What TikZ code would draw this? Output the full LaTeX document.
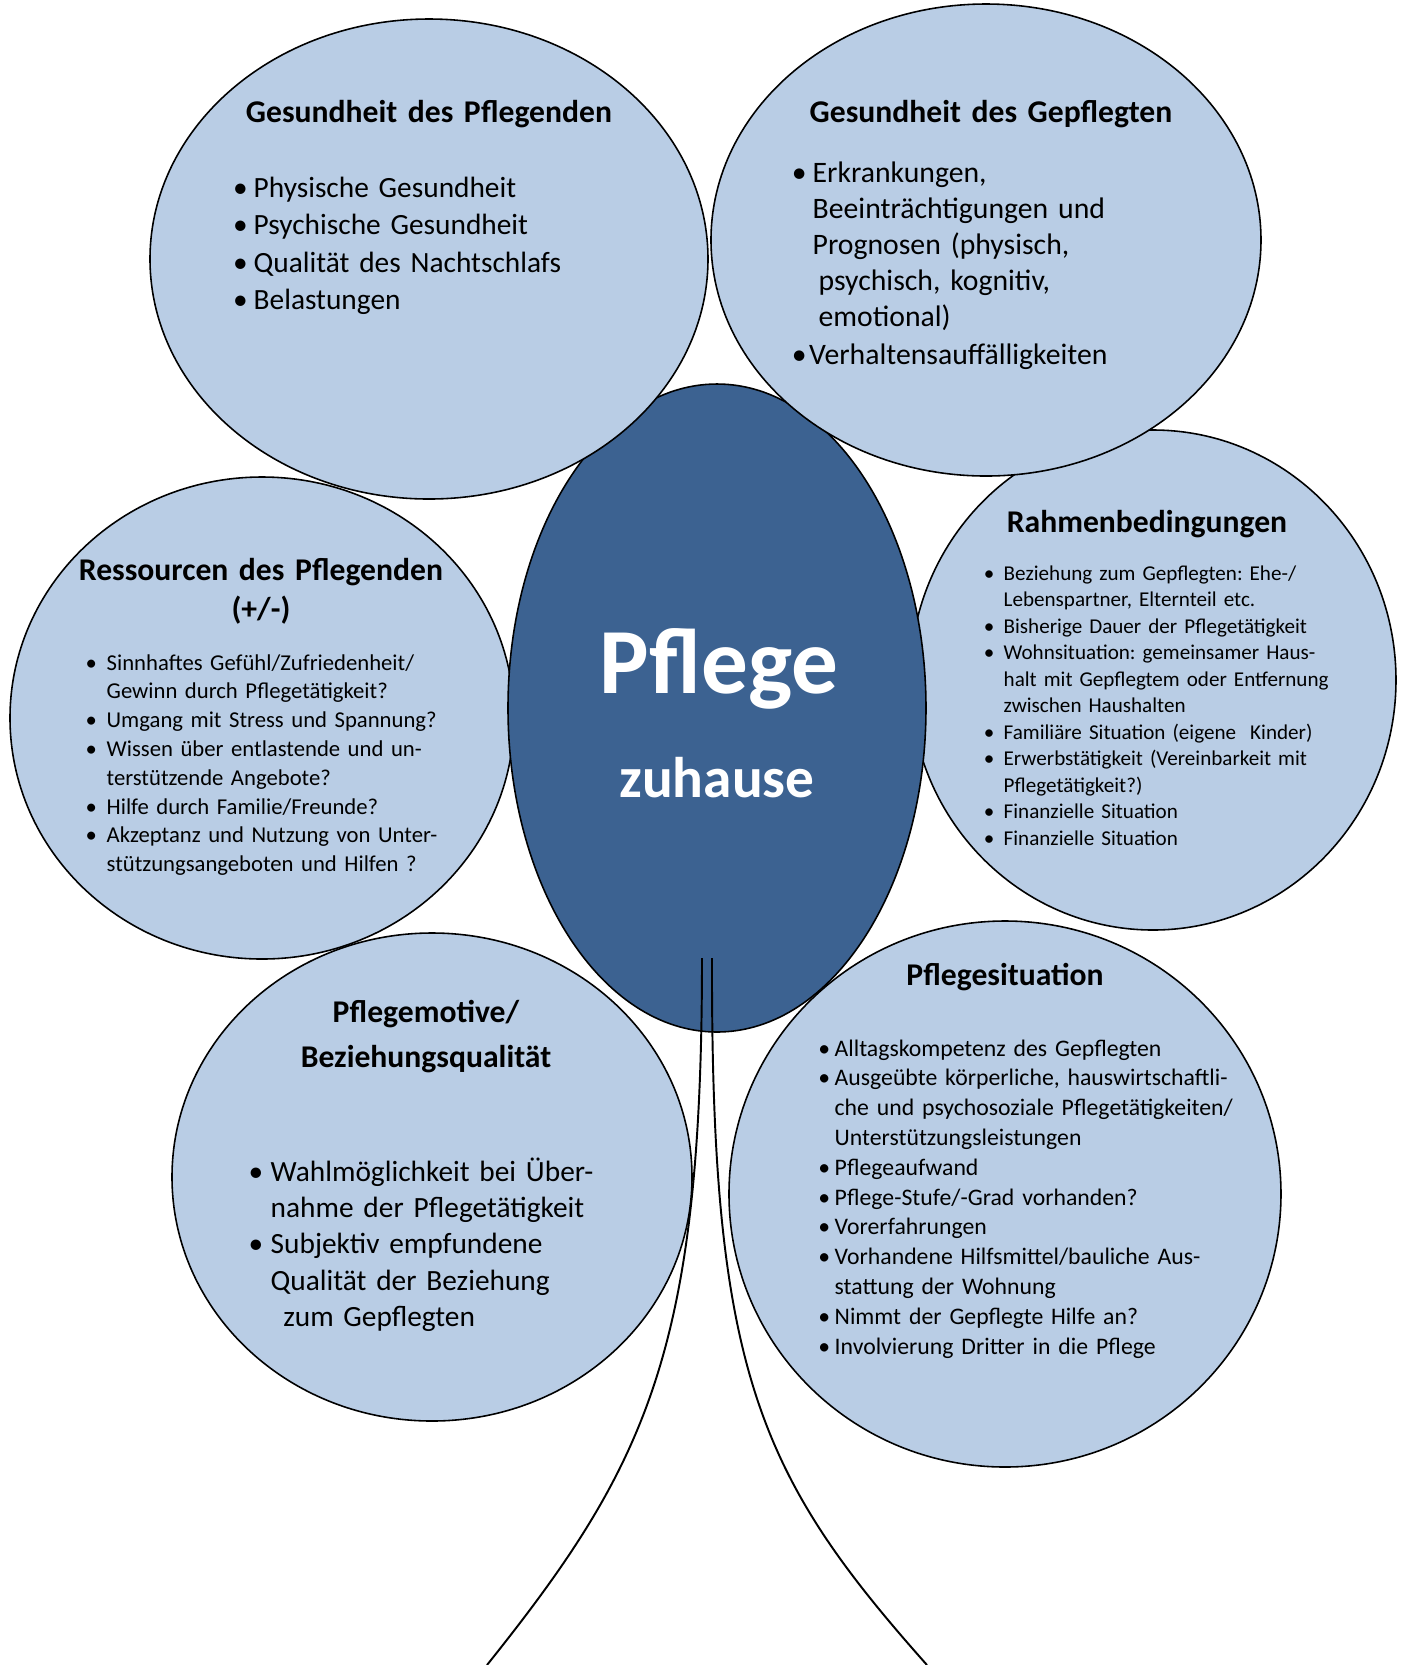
\documentclass[tikz,border=0pt]{standalone}
\usepackage{fontspec}
\setmainfont{Carlito}
\usepackage{tikz}
\definecolor{petalblue}{HTML}{B9CDE5}
\definecolor{coreblue}{HTML}{3C6291}
\tikzset{
  petal/.style={fill=petalblue, draw=black, line width=0.45pt},
  corepetal/.style={fill=coreblue, draw=black, line width=0.45pt},
  stem/.style={draw=black, line width=0.55pt},
  headtext/.style={anchor=base, inner sep=0pt, text width=6cm, align=center,
    font=\bfseries\fontsize{9}{10.8}\selectfont},
  itemlist/.style={anchor=base west, inner sep=0pt, text width=7cm, align=left},
  coretext/.style={anchor=base, inner sep=0pt, text=white, font=\bfseries}
}
\newcommand{\bul}[1][0.2em]{\leavevmode\llap{\textbullet\hspace{#1}}}
\frenchspacing

\begin{document}
\begin{tikzpicture}[x=0.01cm, y=-0.01cm]
  \useasboundingbox (0,0) rectangle (1403,1665);

  % centres of the petals
  \coordinate (res) at (262,718);
  \coordinate (frame) at (1153,680);
  \coordinate (core) at (717,708);
  \coordinate (carer) at (429,259);
  \coordinate (caree) at (986,240);
  \coordinate (motive) at (432,1177);
  \coordinate (situ) at (1005,1194);

  \draw[petal] (res) ellipse [x radius=252, y radius=241];
  \draw[petal] (frame) ellipse [x radius=243, y radius=250];
  \draw[corepetal] (core) ellipse [x radius=209, y radius=324];
  \draw[petal] (carer) ellipse [x radius=279, y radius=240];
  \draw[petal] (caree) ellipse [x radius=275, y radius=236];
  \draw[petal] (motive) ellipse [x radius=260, y radius=244];
  \draw[petal] (situ) ellipse [x radius=276, y radius=273];

  % stem
  \coordinate (stemLtop) at (702,958);
  \coordinate (stemLfoot) at (487,1665);
  \coordinate (stemRtop) at (712,958);
  \coordinate (stemRfoot) at (927,1665);
  \draw[stem] (stemLtop) .. controls (702,1350) and (647,1465) .. (stemLfoot);
  \draw[stem] (stemRtop) .. controls (711,1370) and (758,1475) .. (stemRfoot);

  % centre
  \node[coretext, font=\bfseries\fontsize{26.5}{30}\selectfont] (pflege) at (719,693) {Pflege};
  \node[coretext, font=\bfseries\fontsize{16.3}{19}\selectfont] (zuhause) at (717,797) {zuhause};

  % Gesundheit des Pflegenden
  \node[headtext] (carerhead) at (429,122) {Gesundheit des Pflegenden};
  \node[itemlist, font=\fontsize{8.35}{10.67}\selectfont] (carerlist) at (253,197) {%
    \bul Physische Gesundheit\\
    \bul Psychische Gesundheit\\
    \bul Qualität des Nachtschlafs\\
    \bul Belastungen};

  % Gesundheit des Gepflegten
  \node[headtext] (careehead) at (991,122) {Gesundheit des Gepflegten};
  \node[itemlist, font=\fontsize{8.45}{10.27}\selectfont] (careelist) at (812,182) {%
    \bul Erkrankungen,\\
    Beeinträchtigungen und\\
    Prognosen (physisch,\\
    \hspace*{1.7pt}psychisch, kognitiv,\\
    \hspace*{1.7pt}emotional)\\[0.6pt]
    \leavevmode\kern-1pt\bul[0.7pt]Verhaltensauffälligkeiten};

  % Ressourcen des Pflegenden
  \node[headtext] (reshead) at (261,580) {Ressourcen des Pflegenden\\[0.4pt](+/-)};
  \node[itemlist, font=\fontsize{6.45}{8.19}\selectfont] (reslist) at (106,670) {%
    \bul[0.43em]Sinnhaftes Gefühl/Zufriedenheit/\\
    Gewinn durch Pflegetätigkeit?\\
    \bul[0.43em]Umgang mit Stress und Spannung?\\
    \bul[0.43em]Wissen über entlastende und un-\\
    terstützende Angebote?\\
    \bul[0.43em]Hilfe durch Familie/Freunde?\\
    \bul[0.43em]Akzeptanz und Nutzung von Unter-\\
    stützungsangeboten und Hilfen ?};

  % Rahmenbedingungen
  \node[headtext] (framehead) at (1147,532) {Rahmenbedingungen};
  \node[itemlist, font=\fontsize{6.0}{7.54}\selectfont] (framelist) at (1003,580) {%
    \bul[0.44em]Beziehung zum Gepflegten: Ehe-/\\
    Lebenspartner, Elternteil etc.\\
    \bul[0.44em]Bisherige Dauer der Pflegetätigkeit\\
    \bul[0.44em]Wohnsituation: gemeinsamer Haus-\\
    halt mit Gepflegtem oder Entfernung\\
    zwischen Haushalten\\
    \bul[0.44em]Familiäre Situation (eigene\ \ Kinder)\\
    \bul[0.44em]Erwerbstätigkeit (Vereinbarkeit mit\\
    Pflegetätigkeit?)\\
    \bul[0.44em]Finanzielle Situation\\
    \bul[0.44em]Finanzielle Situation};

  % Pflegemotive
  \node[headtext, font=\bfseries\fontsize{9}{13}\selectfont] (motivehead) at (426,1022) {Pflegemotive/\\Beziehungsqualität};
  \node[itemlist, font=\fontsize{8.35}{10.35}\selectfont] (motivelist) at (270,1181) {%
    \bul[0.25em]Wahlmöglichkeit bei Über-\\
    nahme der Pflegetätigkeit\\
    \bul[0.25em]Subjektiv empfundene\\
    Qualität der Beziehung\\
    \hspace*{3.6pt}zum Gepflegten};

  % Pflegesituation
  \node[headtext] (situhead) at (1005,985) {Pflegesituation};
  \node[itemlist, font=\fontsize{6.75}{8.48}\selectfont] (situlist) at (834,1056) {%
    \bul[0.19em]Alltagskompetenz des Gepflegten\\
    \bul[0.19em]Ausgeübte körperliche, hauswirtschaftli-\\
    che und psychosoziale Pflegetätigkeiten/\\
    Unterstützungsleistungen\\
    \bul[0.19em]Pflegeaufwand\\
    \bul[0.19em]Pflege-Stufe/-Grad vorhanden?\\
    \bul[0.19em]Vorerfahrungen\\
    \bul[0.19em]Vorhandene Hilfsmittel/bauliche Aus-\\
    stattung der Wohnung\\
    \bul[0.19em]Nimmt der Gepflegte Hilfe an?\\
    \bul[0.19em]Involvierung Dritter in die Pflege};
\end{tikzpicture}
\end{document}
